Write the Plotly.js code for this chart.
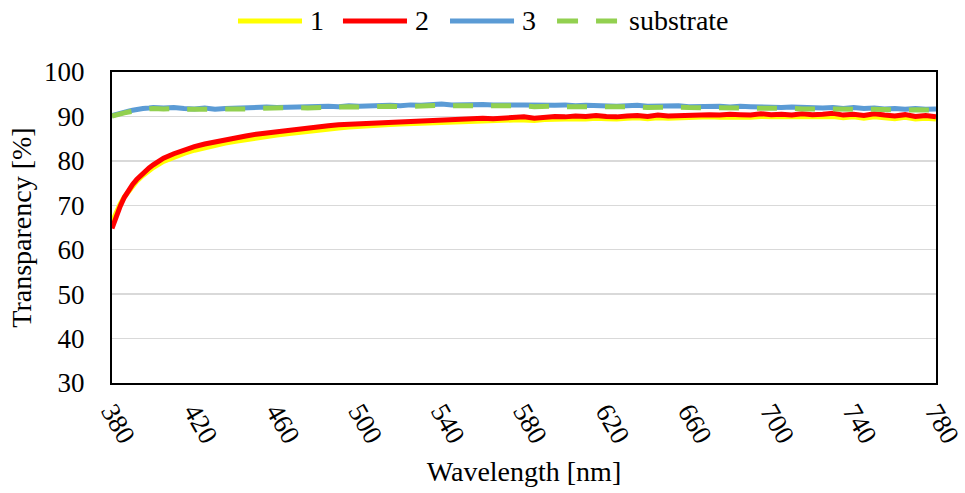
<!DOCTYPE html>
<html>
<head>
<meta charset="utf-8">
<script src="https://cdn.plot.ly/plotly-3.0.1.min.js"></script>
<style>html,body{margin:0;padding:0;background:#fff;}#chart{width:965px;height:493px;}</style>
</head>
<body>
<div id="chart"></div>
<script>
var wavelength = [
  380,382,384,386,388,390,392,395,398,400,
  405,410,415,420,425,430,435,440,445,450,
  455,460,465,470,475,480,485,490,495,500,
  505,510,515,520,525,530,535,540,545,550,
  555,560,565,570,575,580,585,590,595,600,
  605,610,615,620,625,630,635,640,645,650,
  655,660,665,670,675,680,685,690,695,700,
  705,710,715,720,725,730,735,740,745,750,
  755,760,765,770,775,780
];
var series1 = [
  66.2,68.5,70.3,71.9,73.2,74.4,75.4,76.7,77.8,78.5,
  79.9,80.9,81.7,82.4,83.0,83.5,84.0,84.4,84.8,85.2,
  85.5,85.8,86.1,86.4,86.7,87.0,87.2,87.4,87.6,87.8,
  87.9,88.1,88.2,88.3,88.4,88.5,88.6,88.7,88.8,88.9,
  88.9,89.0,89.0,89.1,89.2,89.2,89.1,89.3,89.4,89.3,
  89.5,89.4,89.6,89.5,89.4,89.6,89.7,89.5,89.7,89.6,
  89.7,89.8,89.7,89.9,89.8,89.9,89.8,89.8,90.0,89.9,
  89.9,89.8,90.0,89.9,89.9,90.0,89.7,89.9,89.6,89.9,
  89.7,89.5,89.8,89.4,89.6,89.4
];
var series2 = [
  64.8,67.5,69.8,71.8,73.4,74.7,75.8,77.2,78.4,79.1,
  80.6,81.6,82.5,83.2,83.8,84.3,84.8,85.2,85.6,86.0,
  86.3,86.6,86.9,87.2,87.4,87.7,87.9,88.1,88.2,88.4,
  88.5,88.7,88.8,88.9,89.0,89.0,89.2,89.2,89.3,89.4,
  89.4,89.6,89.5,89.7,89.8,89.9,89.6,89.8,90.0,89.9,
  90.1,90.0,90.2,90.0,89.9,90.1,90.2,90.0,90.3,90.1,
  90.2,90.3,90.2,90.4,90.3,90.5,90.4,90.3,90.6,90.4,
  90.5,90.3,90.6,90.4,90.5,90.7,90.3,90.5,90.2,90.6,
  90.3,90.1,90.4,90.0,90.2,89.9
];
var series3 = [
  90.2,90.5,90.8,91.0,91.2,91.4,91.6,91.8,91.9,92.0,
  91.9,92.0,91.8,91.7,91.9,91.6,91.8,91.9,91.8,92.0,
  92.1,92.0,92.1,92.2,92.1,92.2,92.3,92.2,92.4,92.3,
  92.4,92.3,92.5,92.4,92.6,92.5,92.6,92.8,92.6,92.7,
  92.6,92.7,92.6,92.7,92.6,92.6,92.5,92.6,92.5,92.6,
  92.4,92.5,92.4,92.5,92.3,92.4,92.5,92.3,92.4,92.3,
  92.4,92.2,92.3,92.2,92.3,92.1,92.3,92.2,92.1,92.2,
  92.0,92.1,92.0,92.1,91.9,92.0,91.8,92.0,91.8,91.9,
  91.7,91.8,91.6,91.8,91.6,91.7
];
var substrate = [
  90.1,90.4,90.6,90.8,91.0,91.2,91.4,91.6,91.7,91.8,
  91.7,91.8,91.6,91.6,91.7,91.5,91.6,91.7,91.7,91.8,
  91.9,91.8,92.0,92.0,91.9,92.0,92.1,92.0,92.2,92.1,
  92.2,92.1,92.3,92.2,92.3,92.3,92.4,92.5,92.4,92.4,
  92.4,92.5,92.3,92.4,92.3,92.4,92.2,92.3,92.3,92.2,
  92.2,92.3,92.1,92.2,92.1,92.1,92.2,92.0,92.1,92.0,
  92.1,92.0,92.0,91.9,92.0,91.9,92.0,91.9,91.8,91.9,
  91.8,91.8,91.7,91.8,91.7,91.7,91.6,91.7,91.6,91.6,
  91.5,91.6,91.4,91.5,91.4,91.4
];
var seriesNames = ['1', '2', '3', 'substrate'];
var seriesColors = ['#FFFF00', '#FF0000', '#5B9BD5', '#92D050'];
var seriesDash = ['solid', 'solid', 'solid', '20px,18px'];
var xTickVals = [380,420,460,500,540,580,620,660,700,740,780];

var serif = 'Liberation Serif, Times New Roman, serif';
var ys = [series1, series2, series3, substrate];
var traces = ys.map(function (y, i) {
  return {x: wavelength, y: y, name: seriesNames[i], mode: 'lines', showlegend: false,
          line: {color: seriesColors[i], width: 5, dash: seriesDash[i]}};
});

// custom legend (long line samples like the reference)
var legendX0 = [0.1529, 0.2803, 0.4102, 0.5401];
var legendLen = 0.0777;
var legendY = 1.164;
var shapes = [];
var annotations = [];
for (var i = 0; i < seriesNames.length; i++) {
  shapes.push({type: 'line', xref: 'paper', yref: 'paper', x0: legendX0[i], x1: legendX0[i] + legendLen,
               y0: legendY, y1: legendY,
               line: {color: seriesColors[i], width: 5, dash: i === 3 ? '21px,18px' : 'solid'}});
  annotations.push({xref: 'paper', yref: 'paper', x: legendX0[i] + legendLen + 0.007, y: legendY,
                    xanchor: 'left', yanchor: 'middle', showarrow: false, text: seriesNames[i],
                    font: {family: serif, size: 28, color: '#000'}});
}

var layout = {
  width: 965, height: 493,
  margin: {l: 112, r: 29, t: 72, b: 110},
  paper_bgcolor: '#ffffff', plot_bgcolor: '#ffffff',
  font: {family: serif, size: 28, color: '#000'},
  showlegend: false,
  shapes: shapes,
  annotations: annotations,
  xaxis: {
    range: [380, 780], tickvals: xTickVals, tickangle: 60,
    showgrid: false, zeroline: false,
    showline: true, linecolor: '#000', linewidth: 2, mirror: true,
    ticks: '', ticklabeloverflow: 'allow', tickfont: {family: serif, size: 27, color: '#000'},
    title: {text: 'Wavelength [nm]', font: {family: serif, size: 28, color: '#000'}, standoff: 14}
  },
  yaxis: {
    range: [30, 100], dtick: 10, tick0: 30,
    showgrid: true, gridcolor: '#d9d9d9', gridwidth: 1.5, zeroline: false,
    showline: true, linecolor: '#000', linewidth: 2, mirror: true,
    ticks: '', ticklabelstandoff: 20, tickfont: {family: serif, size: 27, color: '#000'},
    title: {text: 'Transparency [%]', font: {family: serif, size: 28, color: '#000'}, standoff: 4}
  }
};
Plotly.newPlot('chart', traces, layout, {displayModeBar: false, staticPlot: true});
</script>
</body>
</html>
